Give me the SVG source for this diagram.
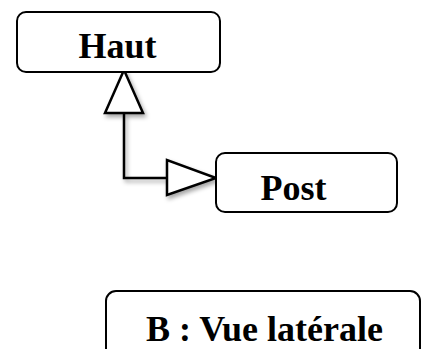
<svg xmlns="http://www.w3.org/2000/svg" width="422" height="349" viewBox="0 0 422 349">
<style>
.box{fill:#fff;stroke:#000;stroke-width:2}
.lbl{font-family:"Liberation Serif","Times New Roman",serif;font-weight:bold;font-size:36px;fill:#000;text-anchor:middle}
.con{fill:none;stroke:#000;stroke-width:2.5}
.tri{fill:#fff;stroke:#000;stroke-width:2.5;stroke-linejoin:miter}
</style>
<defs>
<filter id="sh" x="-20%" y="-20%" width="150%" height="150%">
<feDropShadow dx="2" dy="3" stdDeviation="2" flood-color="#000" flood-opacity="0.35"/>
</filter>
</defs>
<g id="connectors" filter="url(#sh)">
<path class="con" d="M124,113 V178 H167"/>
<polygon class="tri" points="124,70 105,113 143,113"/>
<polygon class="tri" points="167,160 167,195 216,178"/>
</g>
<g id="haut">
<rect class="box" x="17" y="12" width="203" height="60" rx="9"/>
<text class="lbl" x="117.5" y="58">Haut</text>
</g>
<g id="post">
<rect class="box" x="216" y="153" width="181" height="59" rx="9"/>
<text class="lbl" x="293.5" y="200">Post</text>
</g>
<g id="vue">
<rect class="box" x="106" y="291" width="314" height="80" rx="10"/>
<text class="lbl" x="264.5" y="341">B : Vue latérale</text>
</g>
</svg>
